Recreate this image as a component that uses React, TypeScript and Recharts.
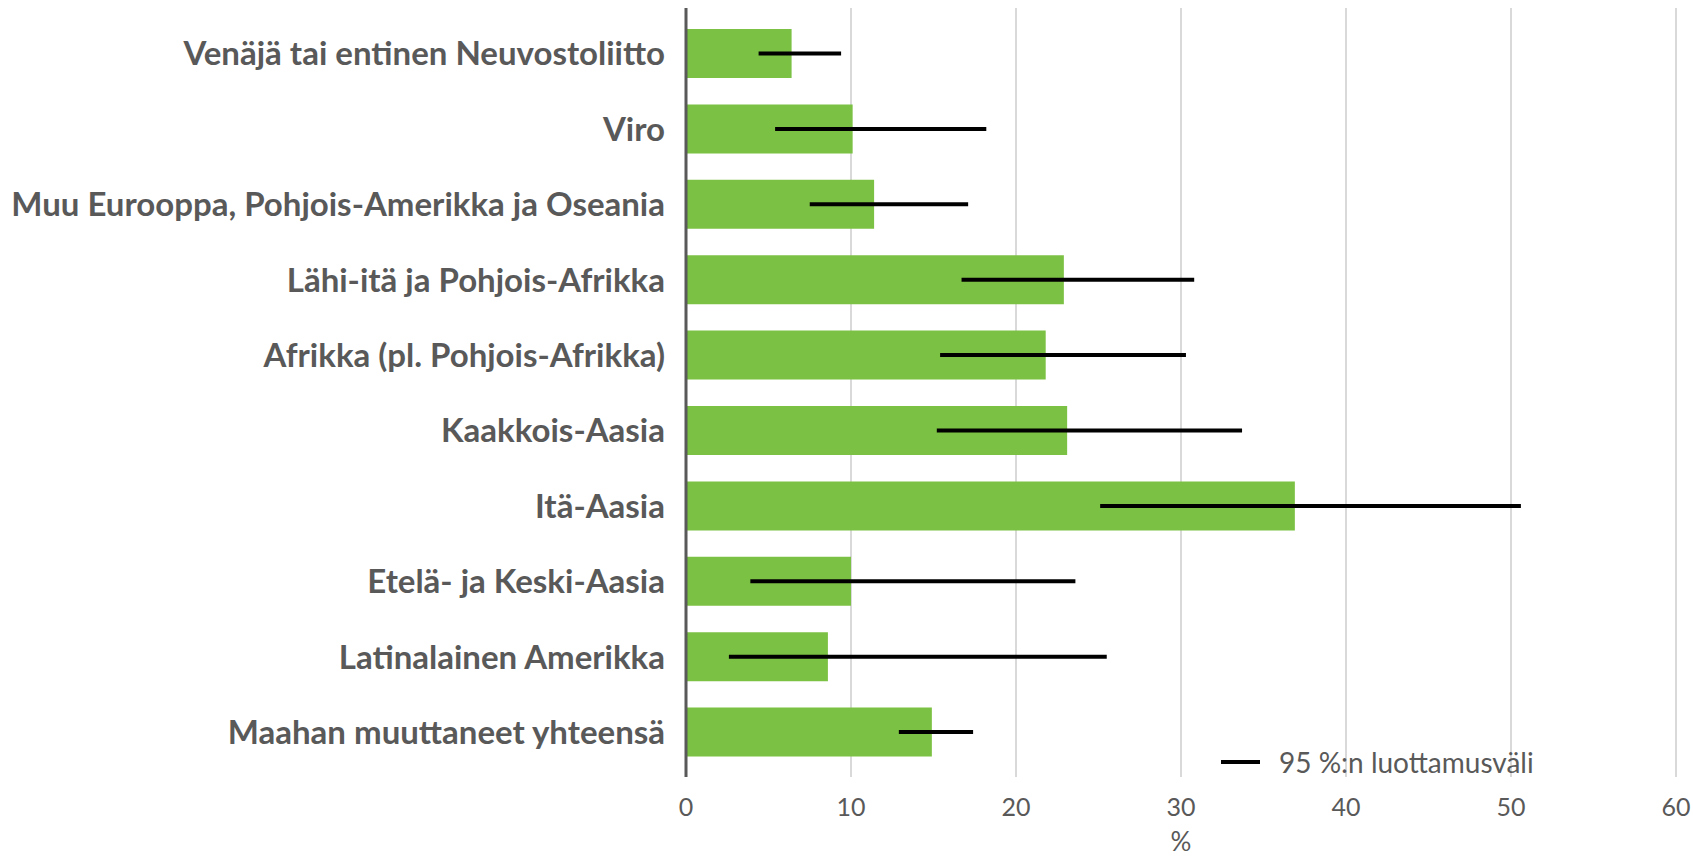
import React from 'react';
import { BarChart, Bar, XAxis, YAxis, CartesianGrid, ErrorBar } from 'recharts';

const regions = [
  'Venäjä tai entinen Neuvostoliitto',
  'Viro',
  'Muu Eurooppa, Pohjois-Amerikka ja Oseania',
  'Lähi-itä ja Pohjois-Afrikka',
  'Afrikka (pl. Pohjois-Afrikka)',
  'Kaakkois-Aasia',
  'Itä-Aasia',
  'Etelä- ja Keski-Aasia',
  'Latinalainen Amerikka',
  'Maahan muuttaneet yhteensä',
];
const shares = [6.4, 10.1, 11.4, 22.9, 21.8, 23.1, 36.9, 10.0, 8.6, 14.9];
const ciLow = [4.4, 5.4, 7.5, 16.7, 15.4, 15.2, 25.1, 3.9, 2.6, 12.9];
const ciHigh = [9.4, 18.2, 17.1, 30.8, 30.3, 33.7, 50.6, 23.6, 25.5, 17.4];
const xTicks = [0, 10, 20, 30, 40, 50, 60];

const data = regions.map((name, i) => ({
  name,
  value: shares[i],
  ci: [shares[i] - ciLow[i], ciHigh[i] - shares[i]],
}));

const textColor = '#595959';
const font = 'Lato, sans-serif';

export default function App() {
  return (
    <div style={{ position: 'absolute', left: 0, top: 0, width: 1693, height: 859, background: '#fff' }}>
      <BarChart
        width={1693}
        height={859}
        data={data}
        layout="vertical"
        margin={{ top: 8, right: 17, bottom: 0, left: 0 }}
      >
        <CartesianGrid horizontal={false} stroke="#d9d9d9" strokeWidth={2} />
        <XAxis
          type="number"
          domain={[0, 60]}
          ticks={xTicks}
          axisLine={false}
          tickLine={false}
          height={82}
          tickMargin={15}
          tick={{ fill: textColor, fontSize: 25, fontFamily: font }}
          label={{ value: '%', position: 'insideBottom', offset: 0, dy: -8, fill: textColor, fontSize: 26, fontFamily: font }}
        />
        <YAxis
          type="category"
          dataKey="name"
          width={686}
          padding={{ top: 8, bottom: 7 }}
          axisLine={{ stroke: textColor, strokeWidth: 3 }}
          tickLine={false}
          tickMargin={15}
          tick={{ fill: textColor, fontSize: 33, fontWeight: 700, fontFamily: font }}
        />
        <Bar dataKey="value" fill="#7bc143" barSize={49} isAnimationActive={false}>
          <ErrorBar dataKey="ci" direction="x" width={0} stroke="#000" strokeWidth={4} isAnimationActive={false} />
        </Bar>
      </BarChart>
      <div
        style={{
          position: 'absolute',
          left: 1221,
          top: 745,
          display: 'flex',
          alignItems: 'center',
          fontFamily: font,
          fontSize: 28,
          color: textColor,
          whiteSpace: 'nowrap',
        }}
      >
        <div style={{ width: 39, height: 4, background: '#000', marginRight: 19 }} />
        <span>95 %:n luottamusväli</span>
      </div>
    </div>
  );
}
